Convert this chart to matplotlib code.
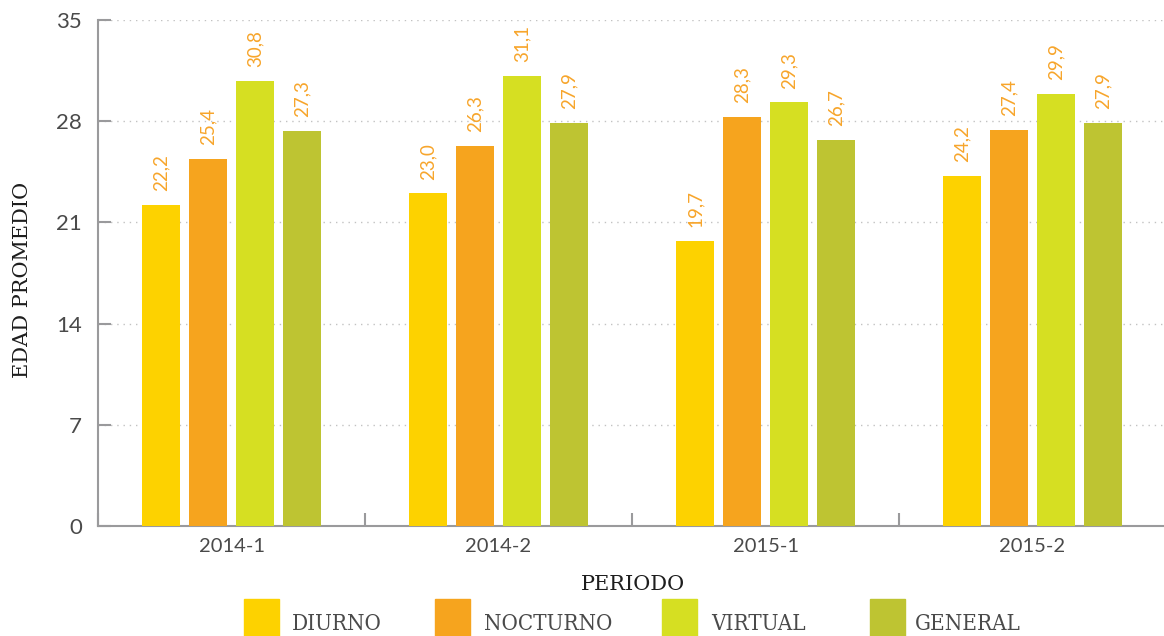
import numpy as np
import matplotlib.pyplot as plt
from matplotlib.patches import Rectangle

# Edad promedio por periodo y jornada
periodos = ['2014-1', '2014-2', '2015-1', '2015-2']
jornadas = ['DIURNO', 'NOCTURNO', 'VIRTUAL', 'GENERAL']
diurno = [22.2, 23.0, 19.7, 24.2]
nocturno = [25.4, 26.3, 28.3, 27.4]
virtual = [30.8, 31.1, 29.3, 29.9]
general = [27.3, 27.9, 26.7, 27.9]
y_ticks = [0, 7, 14, 21, 28, 35]

series = [diurno, nocturno, virtual, general]
colors = ['#FDD200', '#F6A41E', '#D6DF22', '#BEC432']
label_color = '#F7A52B'
axis_gray = '#9a9a9c'
text_gray = '#4a4a4a'

fig = plt.figure(figsize=(11.64, 6.36), dpi=100)
ax = fig.add_axes([98 / 1164, 110 / 636, 1068 / 1164, 506 / 636])

x = np.arange(len(periodos))
pitch = 0.176
width = 0.142
for i, (vals, col) in enumerate(zip(series, colors)):
    pos = x + (i - 1.5) * pitch
    ax.bar(pos, vals, width=width, color=col, zorder=3)
    for px, v in zip(pos, vals):
        ax.annotate(f'{v:.1f}'.replace('.', ','), (px, v), xytext=(0, 10),
                    textcoords='offset points', rotation=90, ha='center',
                    va='bottom', color=label_color, fontsize=13.5,
                    family='Lato', zorder=4)

ax.set_xlim(-0.5, 3.5)
ax.set_ylim(0, 35)
ax.set_yticks(y_ticks)
ax.set_xticks(x)
ax.set_xticklabels(periodos)
ax.set_xticks([-0.5, 0.5, 1.5, 2.5], minor=True)

ax.tick_params(axis='y', direction='in', length=9.5, width=1.5,
               color=axis_gray, pad=11.5, labelsize=16, labelcolor=text_gray)
ax.tick_params(axis='x', which='major', length=0, pad=9, labelsize=14.5,
               labelcolor=text_gray)
ax.tick_params(axis='x', which='minor', direction='in', length=9.5,
               width=1.5, color=axis_gray)
for lab in ax.get_xticklabels() + ax.get_yticklabels():
    lab.set_family('Lato')

ax.grid(axis='y', linestyle=(0, (1, 3.5)), color='#c2c2c2', linewidth=1,
        zorder=0)
for side in ['top', 'right']:
    ax.spines[side].set_visible(False)
for side in ['left', 'bottom']:
    ax.spines[side].set_color(axis_gray)
    ax.spines[side].set_linewidth(1.5)

ax.set_ylabel('EDAD PROMEDIO', family='DejaVu Serif', fontsize=15,
              color='#1e1e1e', va='center')
ax.yaxis.set_label_coords(-0.071, 0.486)
ax.set_xlabel('PERIODO', family='DejaVu Serif', fontsize=15,
              color='#1e1e1e')
ax.xaxis.set_label_coords(0.501, -0.097)

# leyenda dibujada a mano bajo el eje
patch_x = [244, 435, 662, 870]
text_x = [292, 484, 711, 915]
for px, tx, col, name in zip(patch_x, text_x, colors, jornadas):
    fig.add_artist(Rectangle((px / 1164, -0.01), 35 / 1164, 43 / 636,
                             transform=fig.transFigure, color=col))
    fig.text(tx / 1164, 1 - 624 / 636, name, family='DejaVu Serif',
             fontstretch='condensed', fontsize=16, color=text_gray,
             va='center', ha='left')

fig.savefig('out.png', dpi=100)
